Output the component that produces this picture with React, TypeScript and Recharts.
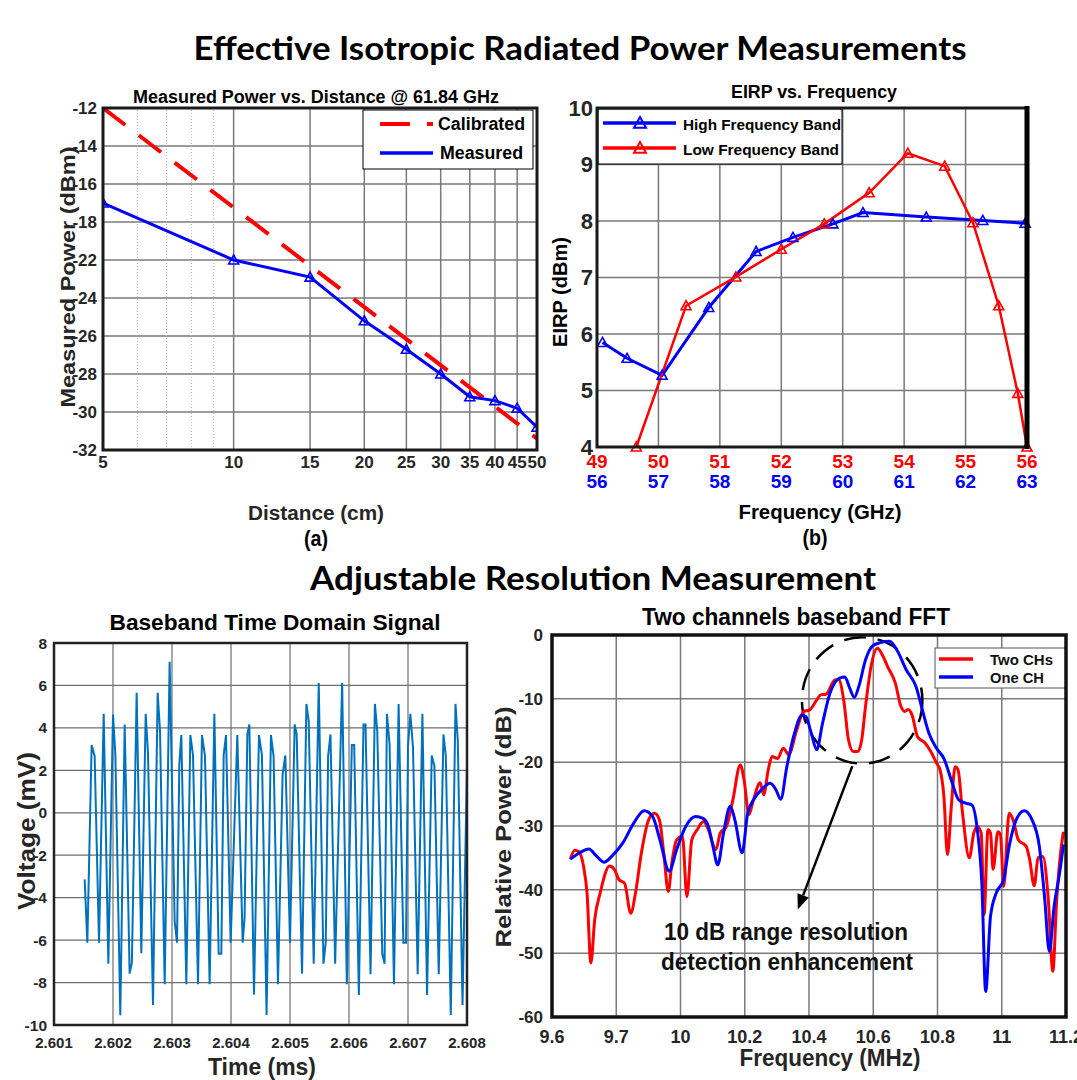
import { LineChart, Line, XAxis, YAxis, CartesianGrid, ReferenceLine, ReferenceArea } from "recharts";

const SANS = "'Liberation Sans', Arial, Helvetica, sans-serif";
const HEAD = "Lato, 'Open Sans', sans-serif";
const INK = "#262626";
const GRID = "#7a7a7a";

// ---------- (a) measured power vs distance ----------
// y values are in grid units; the printed labels skip "-20", so labels are mapped below
const distTicks = [5, 10, 15, 20, 25, 30, 35, 40, 45, 50];
const distMinorTicks = [6, 7, 8, 9];
const powerTicks = [-12, -14, -16, -18, -20, -22, -24, -26, -28, -30];
const powerTickLabels = ["-12", "-14", "-16", "-18", "-22", "-24", "-26", "-28", "-30", "-32"];
const calibratedDist = [5, 50];
const calibratedPower = [-12, -29.4];
const measuredDist = [5, 10, 15, 20, 25, 30, 35, 40, 45, 50];
const measuredPower = [-17.0, -20.0, -20.9, -23.2, -24.7, -26.0, -27.2, -27.4, -27.8, -28.8];

// ---------- (b) EIRP vs frequency ----------
const lowBandTicks = [49, 50, 51, 52, 53, 54, 55, 56];
const highBandTicks = [56, 57, 58, 59, 60, 61, 62, 63];
const eirpTicks = [4, 5, 6, 7, 8, 9, 10];
const lowFreq = [49.64, 50.45, 51.26, 52.0, 52.7, 53.43, 54.06, 54.66, 55.12, 55.54, 55.85, 56.0];
const lowEirp = [4.0, 6.5, 7.01, 7.5, 7.95, 8.5, 9.2, 8.97, 7.97, 6.5, 4.95, 4.0];
const highFreq = [56.09, 56.49, 57.06, 57.82, 58.59, 59.19, 59.84, 60.33, 61.36, 62.28, 62.97];
const highEirp = [5.85, 5.57, 5.27, 6.47, 7.46, 7.71, 7.95, 8.15, 8.07, 8.01, 7.96];

// ---------- baseband time domain ----------
const timeTicks = [2.601, 2.602, 2.603, 2.604, 2.605, 2.606, 2.607, 2.608];
const voltTicks = [-10, -8, -6, -4, -2, 0, 2, 4, 6, 8];
const timeMs = [
  2.60152, 2.601565, 2.601638, 2.601689, 2.601763, 2.601842, 2.601921, 2.602, 2.60204, 2.602124,
  2.602198, 2.602282, 2.60232, 2.602401, 2.60248, 2.602554, 2.602593, 2.602678, 2.602757, 2.602797,
  2.602876, 2.60296, 2.603045, 2.603085, 2.603124, 2.603158, 2.603243, 2.603311, 2.603356, 2.603441,
  2.603508, 2.603559, 2.603638, 2.603718, 2.603791, 2.603836, 2.603876, 2.603915, 2.603994, 2.604107,
  2.604198, 2.60423, 2.604277, 2.604311, 2.60439, 2.604474, 2.604524, 2.604603, 2.604677, 2.604722,
  2.604796, 2.604875, 2.604921, 2.605, 2.605079, 2.605113, 2.605204, 2.605278, 2.605317, 2.605402,
  2.605487, 2.605567, 2.605606, 2.605646, 2.605686, 2.605765, 2.605884, 2.605963, 2.606048, 2.606088,
  2.606167, 2.606246, 2.60628, 2.606365, 2.606439, 2.606479, 2.606564, 2.606603, 2.606643, 2.606688,
  2.606762, 2.606841, 2.606921, 2.606966, 2.607, 2.60704, 2.607085, 2.607164, 2.607244, 2.607323,
  2.607402, 2.607448, 2.607521, 2.607601, 2.607641, 2.607725, 2.607805, 2.607844, 2.607924, 2.608,
];
const voltage = [
  -3.14, -6.12, 3.19, 2.67, -6.12, 4.66, -7.11, 4.63, 2.75, -9.54,
  4.16, -7.58, -7.06, 5.65, -6.62, 4.66, 2.83, -9.06, 5.65, 3.85,
  -8.08, 7.11, -5.1, -6.12, 2.28, 3.66, -8.08, 3.66, 2.72, -8.08,
  3.66, 2.67, -8.08, 4.66, -6.64, -6.64, 2.72, 3.66, -6.12, 3.66,
  -6.12, -4.95, 3.69, 4.16, -8.56, 3.66, 2.72, -9.53, 3.66, 2.67,
  -8.08, 1.81, 2.7, -6.12, 4.16, 3.69, -7.58, 5.13, 4.32, -7.11,
  6.12, -7.11, -6.12, 2.67, 3.69, -7.11, 6.12, -8.08, 3.19, 3.19,
  -8.59, 4.16, 4.16, -7.61, 5.13, 3.85, -6.64, -7.11, 4.66, 3.22,
  -8.08, 5.13, -6.12, -6.12, 3.14, 4.66, 3.06, -7.61, 4.66, -8.59,
  2.7, 2.2, -7.61, 3.69, 2.67, -9.53, 5.13, 3.38, -9.06, 2.2,
];

// ---------- two channel FFT ----------
// x values are in grid units; the second label reads "9.7" on the 9.8 grid line
const fftTicks = [9.6, 9.8, 10.0, 10.2, 10.4, 10.6, 10.8, 11.0, 11.2];
const fftTickLabels = ["9.6", "9.7", "10", "10.2", "10.4", "10.6", "10.8", "11", "11.2"];
const dbTicks = [-60, -50, -40, -30, -20, -10, 0];
const twoChFreq = [
  9.657, 9.671, 9.683, 9.698, 9.709, 9.721, 9.733, 9.75, 9.779, 9.794,
  9.808, 9.826, 9.845, 9.86, 9.878, 9.901, 9.919, 9.934, 9.948, 9.962,
  9.973, 9.988, 10.006, 10.02, 10.035, 10.052, 10.072, 10.087, 10.11, 10.124,
  10.143, 10.163, 10.186, 10.198, 10.213, 10.227, 10.248, 10.259, 10.273, 10.285,
  10.302, 10.32, 10.337, 10.36, 10.384, 10.401, 10.424, 10.436, 10.453, 10.48,
  10.492, 10.508, 10.523, 10.538, 10.552, 10.564, 10.576, 10.593, 10.613, 10.628,
  10.645, 10.669, 10.686, 10.698, 10.709, 10.721, 10.738, 10.762, 10.779, 10.797,
  10.808, 10.82, 10.831, 10.843, 10.855, 10.864, 10.878, 10.899, 10.913, 10.924,
  10.936, 10.945, 10.957, 10.965, 10.973, 10.988, 10.996, 11.006, 11.023, 11.035,
  11.052, 11.076, 11.087, 11.101, 11.113, 11.128, 11.145, 11.159, 11.171, 11.183,
  11.192,
];
const twoChPower = [
  -35.2, -33.8, -34.0, -36.3, -40.5, -51.5, -44.7, -40.5, -36.3, -36.8,
  -38.4, -39.0, -43.7, -40.5, -34.3, -29.0, -28.0, -29.0, -34.3, -40.3,
  -35.8, -32.2, -31.6, -41.1, -32.2, -30.6, -29.3, -30.6, -33.7, -31.1,
  -30.1, -25.9, -20.4, -22.8, -28.2, -25.9, -23.2, -25.1, -21.2, -19.1,
  -19.4, -17.8, -18.8, -15.2, -12.0, -11.8, -10.2, -9.4, -9.3, -7.1,
  -7.0, -10.2, -16.5, -18.3, -18.3, -16.5, -11.2, -5.0, -2.1, -3.1,
  -5.0, -7.6, -11.2, -12.0, -11.7, -12.6, -16.0, -17.0, -18.3, -20.1,
  -21.2, -25.4, -34.5, -26.9, -20.7, -21.2, -28.0, -35.0, -31.1, -30.1,
  -31.1, -43.9, -30.6, -31.1, -36.8, -30.9, -31.4, -39.5, -28.0, -29.0,
  -32.2, -33.2, -35.3, -39.4, -35.0, -34.8, -41.6, -52.8, -41.6, -34.3,
  -30.9,
];
const oneChFreq = [
  9.657, 9.686, 9.715, 9.738, 9.762, 9.785, 9.82, 9.855, 9.887, 9.913,
  9.936, 9.965, 9.988, 10.017, 10.047, 10.07, 10.087, 10.101, 10.116, 10.134,
  10.155, 10.169, 10.192, 10.209, 10.227, 10.252, 10.279, 10.297, 10.312, 10.331,
  10.355, 10.378, 10.39, 10.407, 10.424, 10.442, 10.465, 10.494, 10.512, 10.527,
  10.541, 10.555, 10.576, 10.598, 10.622, 10.651, 10.674, 10.703, 10.733, 10.75,
  10.773, 10.797, 10.82, 10.843, 10.866, 10.887, 10.907, 10.924, 10.938, 10.95,
  10.965, 10.983, 11.006, 11.023, 11.047, 11.07, 11.094, 11.117, 11.134, 11.148,
  11.163, 11.18, 11.192,
];
const oneChPower = [
  -35.2, -34.2, -33.6, -34.7, -35.7, -34.8, -32.7, -29.5, -27.6, -28.5,
  -32.2, -37.1, -33.7, -30.0, -28.5, -28.8, -30.1, -33.2, -36.1, -31.1,
  -26.9, -29.0, -34.2, -28.0, -25.9, -24.3, -23.3, -24.3, -25.8, -20.7,
  -15.4, -12.6, -12.8, -15.4, -18.0, -13.9, -9.2, -6.8, -6.6, -8.4,
  -9.8, -8.1, -3.9, -1.7, -1.2, -1.0, -2.4, -5.5, -8.1, -11.2,
  -15.4, -17.8, -19.4, -22.8, -25.9, -26.4, -26.7, -30.6, -39.0, -56.0,
  -44.2, -40.5, -38.4, -33.2, -28.8, -27.6, -29.0, -33.2, -41.6, -49.7,
  -42.6, -37.4, -32.9,
];

const zip = (xs: number[], ys: number[]) => xs.map((x, i) => ({ x, y: ys[i] }));

const calibratedData = zip(calibratedDist, calibratedPower);
const measuredData = zip(measuredDist, measuredPower);
const lowBandData = zip(lowFreq, lowEirp);
const highBandData = zip(highFreq, highEirp);
const timeData = zip(timeMs, voltage);
const twoChData = zip(twoChFreq, twoChPower);
const oneChData = zip(oneChFreq, oneChPower);

const tickStyle = (size: number, fill = INK) => ({ fontSize: size, fontWeight: 700, fontFamily: SANS, fill });

const labelFor = (ticks: number[], labels: string[]) => (v: number) => {
  const i = ticks.findIndex((t) => Math.abs(t - v) < 1e-6);
  return i >= 0 ? labels[i] : String(v);
};

const triPath = (cx: number, cy: number, r: number) =>
  `M${cx},${cy - r} L${cx + r},${cy + r * 0.8} L${cx - r},${cy + r * 0.8} Z`;

const triangleDot = (color: string, r = 5) => (props: any) => {
  const { cx, cy, index } = props;
  if (cx == null || cy == null) return <g key={index} />;
  return <path key={index} d={triPath(cx, cy, r)} fill="none" stroke={color} strokeWidth={1.6} />;
};

const Ellipse = (p: any) => (
  <ellipse
    cx={p.x + p.width / 2}
    cy={p.y + p.height / 2}
    rx={Math.abs(p.width) / 2}
    ry={Math.abs(p.height) / 2}
    fill="none"
    stroke="#000"
    strokeWidth={2.5}
    strokeDasharray="22 12"
  />
);

const Arrow = (p: any) => {
  const { x1, y1, x2, y2 } = p;
  const a = Math.atan2(y2 - y1, x2 - x1);
  const L = 15;
  const W = 6;
  const bx = x2 - L * Math.cos(a);
  const by = y2 - L * Math.sin(a);
  const pts = `${x2},${y2} ${bx + W * Math.sin(a)},${by - W * Math.cos(a)} ${bx - W * Math.sin(a)},${by + W * Math.cos(a)}`;
  return (
    <g>
      <line x1={x1} y1={y1} x2={bx} y2={by} stroke="#000" strokeWidth={2.5} />
      <polygon points={pts} fill="#000" />
    </g>
  );
};

type CaptionProps = {
  x: number;
  y: number;
  size: number;
  w: number;
  children: string;
  rot?: boolean;
  fill?: string;
  family?: string;
  anchor?: "middle" | "start";
};

const Caption = ({ x, y, size, w, children, rot, fill = "#000", family = SANS, anchor = "middle" }: CaptionProps) => (
  <text
    x={x}
    y={y}
    fontSize={size}
    fontWeight={700}
    fontFamily={family}
    fill={fill}
    textAnchor={anchor}
    dominantBaseline="central"
    textLength={w}
    lengthAdjust="spacingAndGlyphs"
    transform={rot ? `rotate(-90 ${x} ${y})` : undefined}
  >
    {children}
  </text>
);

const abs = (left: number, top: number) => ({ position: "absolute" as const, left, top });

export default function App() {
  return (
    <div style={{ position: "absolute", left: 0, top: 0, width: 1077, height: 1080, background: "#fff", overflow: "hidden" }}>
      {/* (a) */}
      <div style={abs(0, 80)}>
        <LineChart width={560} height={420} margin={{ top: 28, right: 23, left: 0, bottom: 20 }}>
          <CartesianGrid stroke={GRID} strokeWidth={1.5} />
          {distMinorTicks.map((d) => (
            <ReferenceLine key={d} x={d} stroke="#b0b0b0" strokeWidth={1} strokeDasharray="1 2" />
          ))}
          <XAxis
            dataKey="x"
            type="number"
            scale="log"
            domain={[5, 50]}
            ticks={distTicks}
            interval={0}
            allowDataOverflow
            height={30}
            tickSize={4}
            tickMargin={2}
            tickLine={false}
            axisLine={false}
            tick={tickStyle(17)}
          />
          <YAxis
            type="number"
            domain={[-30, -12]}
            ticks={powerTicks}
            interval={0}
            width={103}
            tickSize={4}
            tickMargin={2}
            tickLine={false}
            axisLine={false}
            tick={tickStyle(17)}
            tickFormatter={labelFor(powerTicks, powerTickLabels)}
          />
          <Line
            data={calibratedData}
            dataKey="y"
            stroke="#ff0000"
            strokeWidth={4}
            strokeDasharray="28 17"
            dot={false}
            isAnimationActive={false}
          />
          <Line
            data={measuredData}
            dataKey="y"
            stroke="#0000ff"
            strokeWidth={3}
            dot={triangleDot("#0000ff", 5)}
            isAnimationActive={false}
          />
        </LineChart>
      </div>

      {/* (b) */}
      <div style={abs(540, 80)}>
        <LineChart width={520} height={440} margin={{ top: 28, right: 33, left: 0, bottom: 33 }}>
          <CartesianGrid xAxisId="a" stroke={GRID} strokeWidth={1.5} />
          <XAxis
            xAxisId="a"
            dataKey="x"
            type="number"
            domain={[49, 56]}
            ticks={lowBandTicks}
            interval={0}
            height={20}
            tickSize={4}
            tickMargin={4}
            tickLine={false}
            axisLine={false}
            tick={tickStyle(19, "#ff0000")}
          />
          <XAxis
            xAxisId="b"
            dataKey="x"
            type="number"
            domain={[56, 63]}
            ticks={highBandTicks}
            interval={0}
            height={20}
            tickSize={4}
            tickMargin={4}
            tickLine={false}
            axisLine={false}
            tick={tickStyle(19, "#0000ff")}
          />
          <YAxis
            type="number"
            domain={[4, 10]}
            ticks={eirpTicks}
            interval={0}
            width={57}
            tickSize={2}
            tickMargin={2}
            tickLine={false}
            axisLine={false}
            tick={tickStyle(22)}
          />
          <Line
            xAxisId="b"
            data={highBandData}
            dataKey="y"
            stroke="#0000ff"
            strokeWidth={3}
            dot={triangleDot("#0000ff", 5)}
            isAnimationActive={false}
          />
          <Line
            xAxisId="a"
            data={lowBandData}
            dataKey="y"
            stroke="#ff0000"
            strokeWidth={2.5}
            dot={triangleDot("#ff0000", 5)}
            isAnimationActive={false}
          />
        </LineChart>
      </div>

      {/* baseband time domain */}
      <div style={abs(0, 620)}>
        <LineChart width={490} height={440} margin={{ top: 23, right: 23, left: 0, bottom: 10 }}>
          <CartesianGrid stroke="#6e6e6e" strokeWidth={1.2} />
          <XAxis
            dataKey="x"
            type="number"
            domain={[2.601, 2.608]}
            ticks={timeTicks}
            interval={0}
            height={25}
            tickSize={6}
            tickMargin={6}
            tickLine={false}
            axisLine={false}
            tick={tickStyle(15)}
            tickFormatter={(v: number) => v.toFixed(3)}
          />
          <YAxis
            type="number"
            domain={[-10, 8]}
            ticks={voltTicks}
            interval={0}
            width={54}
            tickSize={4}
            tickMargin={3}
            tickLine={false}
            axisLine={false}
            tick={tickStyle(15.5)}
          />
          <Line
            data={timeData}
            dataKey="y"
            type="linear"
            stroke="#0072BD"
            strokeWidth={2}
            dot={false}
            isAnimationActive={false}
          />
        </LineChart>
      </div>

      {/* two channels FFT */}
      <div style={abs(490, 615)}>
        <LineChart width={587} height={440} margin={{ top: 20, right: 11, left: 0, bottom: 13 }}>
          <CartesianGrid stroke={GRID} strokeWidth={1.5} />
          <XAxis
            dataKey="x"
            type="number"
            domain={[9.6, 11.2]}
            ticks={fftTicks}
            interval={0}
            height={25}
            tickSize={6}
            tickMargin={7}
            tickLine={false}
            axisLine={false}
            tick={tickStyle(18)}
            tickFormatter={labelFor(fftTicks, fftTickLabels)}
          />
          <YAxis
            type="number"
            domain={[-60, 0]}
            ticks={dbTicks}
            interval={0}
            width={62}
            tickSize={4}
            tickMargin={5}
            tickLine={false}
            axisLine={false}
            tick={tickStyle(17)}
          />
          <Line
            data={twoChData}
            dataKey="y"
            type="monotone"
            stroke="#ff0000"
            strokeWidth={3}
            dot={false}
            isAnimationActive={false}
          />
          <Line
            data={oneChData}
            dataKey="y"
            type="monotone"
            stroke="#0000ff"
            strokeWidth={3}
            dot={false}
            isAnimationActive={false}
          />
          <ReferenceArea x1={10.378} x2={10.753} y1={-20.2} y2={-0.36} shape={Ellipse} ifOverflow="visible" />
          <ReferenceLine
            segment={[
              { x: 10.535, y: -20.6 },
              { x: 10.365, y: -43.1 },
            ]}
            shape={Arrow}
            ifOverflow="visible"
          />
        </LineChart>
      </div>

      {/* titles, axis titles, legends, frames */}
      <svg width={1077} height={1080} style={{ position: "absolute", left: 0, top: 0, pointerEvents: "none" }}>
        <Caption x={580} y={47} size={32} w={773} family={HEAD}>Effective Isotropic Radiated Power Measurements</Caption>
        <Caption x={593} y={577} size={32} w={566} family={HEAD}>Adjustable Resolution Measurement</Caption>

        <Caption x={316} y={97} size={18} w={366}>Measured Power vs. Distance @ 61.84 GHz</Caption>
        <Caption x={67} y={277} size={21} w={261} rot fill={INK}>Measured Power (dBm)</Caption>
        <Caption x={316} y={513} size={20} w={136} fill={INK}>Distance (cm)</Caption>
        <Caption x={316} y={538} size={22} w={24}>(a)</Caption>

        <Caption x={814} y={92} size={18} w={166}>EIRP vs. Frequency</Caption>
        <Caption x={560} y={292} size={20} w={110} rot>EIRP (dBm)</Caption>
        <Caption x={820} y={512} size={20} w={163}>Frequency (GHz)</Caption>
        <Caption x={815} y={537} size={22} w={25}>(b)</Caption>

        <Caption x={275} y={622} size={22.5} w={331}>Baseband Time Domain Signal</Caption>
        <Caption x={26} y={831} size={24} w={158} rot fill={INK}>Voltage (mV)</Caption>
        <Caption x={262} y={1066} size={24} w={108} fill={INK}>Time (ms)</Caption>

        <Caption x={796} y={617} size={23} w={308}>Two channels baseband FFT</Caption>
        <Caption x={503} y={827} size={22} w={241} rot fill={INK}>Relative Power (dB)</Caption>
        <Caption x={830} y={1058} size={23} w={181} fill={INK}>Frequency (MHz)</Caption>
        <Caption x={786} y={932} size={23} w={244} fill="#111">10 dB range resolution</Caption>
        <Caption x={787} y={962} size={23} w={252} fill="#111">detection enhancement</Caption>

        {/* legend (a) */}
        <rect x={363} y={110} width={170} height={59} fill="#fff" stroke="#000" strokeWidth={1} />
        <line x1={380} y1={124} x2={433} y2={124} stroke="#ff0000" strokeWidth={4} strokeDasharray="30 17" />
        <Caption x={438} y={124} size={18} w={87} anchor="start">Calibrated</Caption>
        <line x1={380} y1={153} x2={433} y2={153} stroke="#0000ff" strokeWidth={3.5} />
        <Caption x={440} y={153} size={18} w={83} anchor="start">Measured</Caption>

        {/* legend (b) */}
        <rect x={598} y={109} width={244} height={55} fill="#fff" stroke="#000" strokeWidth={1} />
        <line x1={603} y1={123} x2={676} y2={123} stroke="#0000ff" strokeWidth={3.5} />
        <path d={triPath(640, 123, 6)} fill="none" stroke="#0000ff" strokeWidth={2} />
        <Caption x={683} y={124} size={15} w={158} anchor="start">High Frequency Band</Caption>
        <line x1={603} y1={148} x2={676} y2={148} stroke="#ff0000" strokeWidth={3.5} />
        <path d={triPath(640, 148, 6)} fill="none" stroke="#ff0000" strokeWidth={2} />
        <Caption x={683} y={149} size={15} w={156} anchor="start">Low Frequency Band</Caption>

        {/* legend FFT */}
        <rect x={935} y={648} width={131} height={40} fill="#fff" stroke="#555" strokeWidth={1} />
        <line x1={939} y1={659} x2={973} y2={659} stroke="#ff0000" strokeWidth={3.5} />
        <Caption x={990} y={659} size={15} w={63} anchor="start" fill="#111">Two CHs</Caption>
        <line x1={939} y1={677} x2={973} y2={677} stroke="#0000ff" strokeWidth={3.5} />
        <Caption x={990} y={677} size={15} w={54} anchor="start" fill="#111">One CH</Caption>

        {/* plot frames */}
        <rect x={103} y={108} width={434} height={342} fill="none" stroke="#1a1a1a" strokeWidth={3} />
        <rect x={597} y={108} width={430} height={339} fill="none" stroke="#1a1a1a" strokeWidth={3} />
        <line x1={1027} y1={106} x2={1027} y2={449} stroke="#000" strokeWidth={5} />
        <rect x={54} y={643} width={413} height={382} fill="none" stroke="#222" strokeWidth={2.5} />
        <rect x={552} y={635} width={514} height={382} fill="none" stroke="#111" strokeWidth={3.5} />
      </svg>
    </div>
  );
}
